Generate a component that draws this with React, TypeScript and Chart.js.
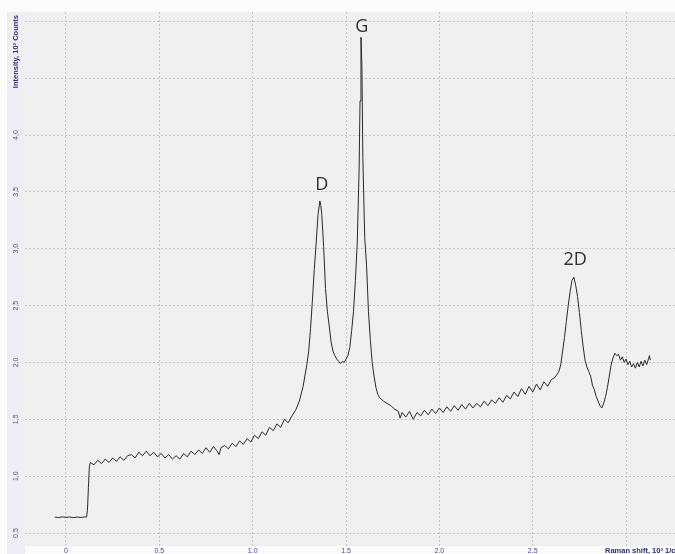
import React, { useEffect, useRef } from "react";
import { Chart, registerables } from "chart.js";

Chart.register(...registerables);

// Raman shift, 10^3 cm^-1
const ramanShift = [
  -0.06, -0.04, -0.02, 0.0, 0.02, 0.04, 0.06, 0.08, 0.1, 0.11, 0.115, 0.12, 0.125, 0.13,
  0.15, 0.17, 0.19, 0.21, 0.23, 0.25, 0.27, 0.29, 0.31, 0.33, 0.35, 0.37, 0.39, 0.41,
  0.43, 0.45, 0.47, 0.49, 0.51, 0.53, 0.55, 0.57, 0.59, 0.61, 0.63, 0.65, 0.67, 0.69,
  0.71, 0.73, 0.75, 0.77, 0.79, 0.81, 0.82, 0.83, 0.85, 0.87, 0.89, 0.91, 0.93, 0.95,
  0.97, 0.99, 1.01, 1.03, 1.05, 1.07, 1.09, 1.11, 1.13, 1.15, 1.17, 1.19, 1.21,
  1.23, 1.25, 1.27, 1.29, 1.3, 1.31, 1.32, 1.33, 1.34, 1.35, 1.36, 1.365, 1.37, 1.38,
  1.39, 1.4, 1.41, 1.42, 1.43, 1.44, 1.45, 1.46, 1.47, 1.48, 1.49, 1.5, 1.51, 1.52,
  1.53, 1.54, 1.55, 1.56, 1.57, 1.575, 1.58, 1.585, 1.59, 1.6, 1.61, 1.62, 1.63, 1.64,
  1.65, 1.66, 1.67, 1.68, 1.7, 1.72, 1.74, 1.76, 1.78, 1.79, 1.8, 1.82, 1.84, 1.86,
  1.88, 1.9, 1.92, 1.94, 1.96, 1.98, 2.0, 2.02, 2.04, 2.06, 2.08, 2.1, 2.12, 2.14,
  2.16, 2.18, 2.2, 2.22, 2.24, 2.26, 2.28, 2.3, 2.32, 2.34, 2.36, 2.38, 2.4, 2.42,
  2.44, 2.46, 2.48, 2.5, 2.52, 2.54, 2.56, 2.58, 2.6, 2.62, 2.64, 2.65, 2.66, 2.67,
  2.68, 2.69, 2.7, 2.71, 2.72, 2.73, 2.74, 2.75, 2.76, 2.77, 2.78, 2.79, 2.8, 2.81,
  2.82, 2.83, 2.84, 2.85, 2.86, 2.87, 2.88, 2.89, 2.9, 2.91, 2.92, 2.93, 2.94, 2.95,
  2.96, 2.97, 2.98, 2.99, 3.0, 3.01, 3.02, 3.03, 3.04, 3.05, 3.06, 3.07, 3.08, 3.09,
  3.1, 3.11, 3.12, 3.125, 3.13,
];

// Intensity, 10^3 counts
const intensity = [
  0.64, 0.636, 0.642, 0.638, 0.641, 0.636, 0.64, 0.637, 0.642, 0.64, 0.7, 0.9, 1.08, 1.12,
  1.1, 1.14, 1.11, 1.15, 1.12, 1.16, 1.13, 1.17, 1.14, 1.18, 1.19, 1.16, 1.21, 1.18,
  1.22, 1.18, 1.21, 1.17, 1.2, 1.16, 1.19, 1.15, 1.18, 1.15, 1.2, 1.17, 1.22, 1.19,
  1.23, 1.2, 1.25, 1.21, 1.26, 1.22, 1.19, 1.25, 1.27, 1.24, 1.29, 1.26, 1.31, 1.28,
  1.33, 1.3, 1.36, 1.33, 1.39, 1.36, 1.43, 1.4, 1.46, 1.43, 1.5, 1.47, 1.53,
  1.58, 1.66, 1.79, 1.98, 2.1, 2.3, 2.55, 2.82, 3.05, 3.3, 3.42, 3.38, 3.3, 3.02,
  2.65, 2.45, 2.32, 2.18, 2.1, 2.06, 2.03, 2.01, 1.99, 2.01, 2.0, 2.03, 2.06, 2.13,
  2.28, 2.45, 2.72, 3.05, 3.7, 4.3, 4.86, 4.6, 3.8, 3.1, 2.85, 2.45, 2.2, 2.0,
  1.88, 1.78, 1.72, 1.69, 1.66, 1.64, 1.62, 1.59, 1.57, 1.51, 1.56, 1.52, 1.57, 1.5,
  1.56, 1.53, 1.58, 1.54, 1.59, 1.55, 1.6, 1.56, 1.61, 1.57, 1.62, 1.58, 1.63, 1.59,
  1.64, 1.6, 1.64, 1.61, 1.66, 1.62, 1.67, 1.64, 1.69, 1.65, 1.71, 1.68, 1.74, 1.7,
  1.77, 1.72, 1.79, 1.74, 1.81, 1.76, 1.83, 1.79, 1.85, 1.87, 1.92, 1.98, 2.1, 2.22,
  2.36, 2.5, 2.62, 2.72, 2.75, 2.68, 2.58, 2.44, 2.28, 2.14, 2.02, 1.96, 1.92, 1.88,
  1.8, 1.76, 1.7, 1.66, 1.62, 1.6, 1.64, 1.7, 1.78, 1.88, 1.98, 2.04, 2.08, 2.06,
  2.07, 2.02, 2.05, 2.0, 2.03, 1.98, 2.01, 1.96, 1.99, 1.95, 2.0, 1.96, 2.01, 1.97,
  2.02, 1.98, 2.03, 2.06, 2.02,
];

const xTicks = [0, 0.5, 1.0, 1.5, 2.0, 2.5, 3.0];
const xTickLabels = ["0", "0.5", "1.0", "1.5", "2.0", "2.5", ""];
const yTicks = [0.5, 1.0, 1.5, 2.0, 2.5, 3.0, 3.5, 4.0, 4.5, 5.0];
const yTickLabels = ["0,5", "1,0", "1,5", "2,0", "2,5", "3,0", "3,5", "4,0", "", ""];

const peakNames = ["D", "G", "2D"];
const peakShift = [1.37, 1.585, 2.727];
const peakLabelLevel = [3.56, 4.95, 2.9];

const xTitle = "Raman shift, 10³ 1/cm";
const yTitle = "Intensity, 10³ Counts";

export default function App() {
  const ref = useRef<HTMLCanvasElement | null>(null);

  useEffect(() => {
    document.body.style.margin = "0";
    const canvas = ref.current;
    if (!canvas) return;

    const decor = {
      id: "decor",
      beforeDraw(chart: any) {
        const { ctx, chartArea: a } = chart;
        ctx.save();
        ctx.fillStyle = "#fbfbfb";
        ctx.fillRect(0, 0, chart.width, chart.height);
        ctx.fillStyle = "#efeff3";
        ctx.fillRect(7, a.top, a.left - 7, chart.height - a.top);
        ctx.fillStyle = "#f0f0f0";
        ctx.fillRect(a.left, a.top, a.right - a.left, a.bottom - a.top);
        ctx.restore();
      },
      afterDraw(chart: any) {
        const { ctx, chartArea: a } = chart;
        const xs = chart.scales.x;
        const ys = chart.scales.y;
        ctx.save();
        // tick labels
        ctx.fillStyle = "#4a4a9a";
        ctx.font = "7px 'Liberation Sans', Arial, sans-serif";
        ctx.textAlign = "center";
        ctx.textBaseline = "middle";
        xTicks.forEach((v, i) => {
          ctx.fillText(xTickLabels[i], xs.getPixelForValue(v), a.bottom + 5);
        });
        yTicks.forEach((v, i) => {
          ctx.save();
          ctx.translate(16, ys.getPixelForValue(v));
          ctx.rotate(-Math.PI / 2);
          ctx.fillText(yTickLabels[i], 0, 0);
          ctx.restore();
        });
        // axis titles
        ctx.fillStyle = "#2e2e7a";
        ctx.font = "bold 7.5px 'Liberation Sans', Arial, sans-serif";
        ctx.save();
        ctx.translate(16, a.top + 3);
        ctx.rotate(-Math.PI / 2);
        ctx.textAlign = "right";
        ctx.fillText(yTitle, 0, 0);
        ctx.restore();
        ctx.textAlign = "left";
        ctx.fillText(xTitle, 605, a.bottom + 5);
        // peak labels
        ctx.fillStyle = "#2f2f2f";
        ctx.font = "18px 'Open Sans', 'Noto Sans', sans-serif";
        ctx.textAlign = "center";
        ctx.textBaseline = "middle";
        peakNames.forEach((n, i) => {
          ctx.fillText(n, xs.getPixelForValue(peakShift[i]), ys.getPixelForValue(peakLabelLevel[i]));
        });
        ctx.restore();
      },
    };

    const gridStyle = {
      color: "#c4c4c4",
      lineWidth: 1,
      drawTicks: false,
    };

    const chart = new Chart(canvas, {
      type: "line",
      data: {
        datasets: [
          {
            data: ramanShift.map((x, i) => ({ x, y: intensity[i] })),
            borderColor: "#2a2a2a",
            borderWidth: 1,
            pointRadius: 0,
            tension: 0,
            fill: false,
          },
        ],
      },
      options: {
        responsive: false,
        animation: false,
        layout: { padding: { left: 25, top: 12, right: 0, bottom: 8 } },
        plugins: { legend: { display: false }, tooltip: { enabled: false } },
        scales: {
          x: {
            type: "linear",
            min: -0.2196,
            max: 3.262,
            afterBuildTicks: (s: any) => {
              s.ticks = xTicks.map((v) => ({ value: v }));
            },
            ticks: { display: false },
            grid: gridStyle as any,
            border: { display: false, dash: [2, 2] },
          },
          y: {
            type: "linear",
            min: 0.386,
            max: 5.082,
            afterBuildTicks: (s: any) => {
              s.ticks = yTicks.map((v) => ({ value: v }));
            },
            ticks: { display: false },
            grid: gridStyle as any,
            border: { display: false, dash: [2, 2] },
          },
        },
      },
      plugins: [decor],
    });

    return () => chart.destroy();
  }, []);

  return <canvas ref={ref} width={675} height={554} style={{ display: "block" }} />;
}
